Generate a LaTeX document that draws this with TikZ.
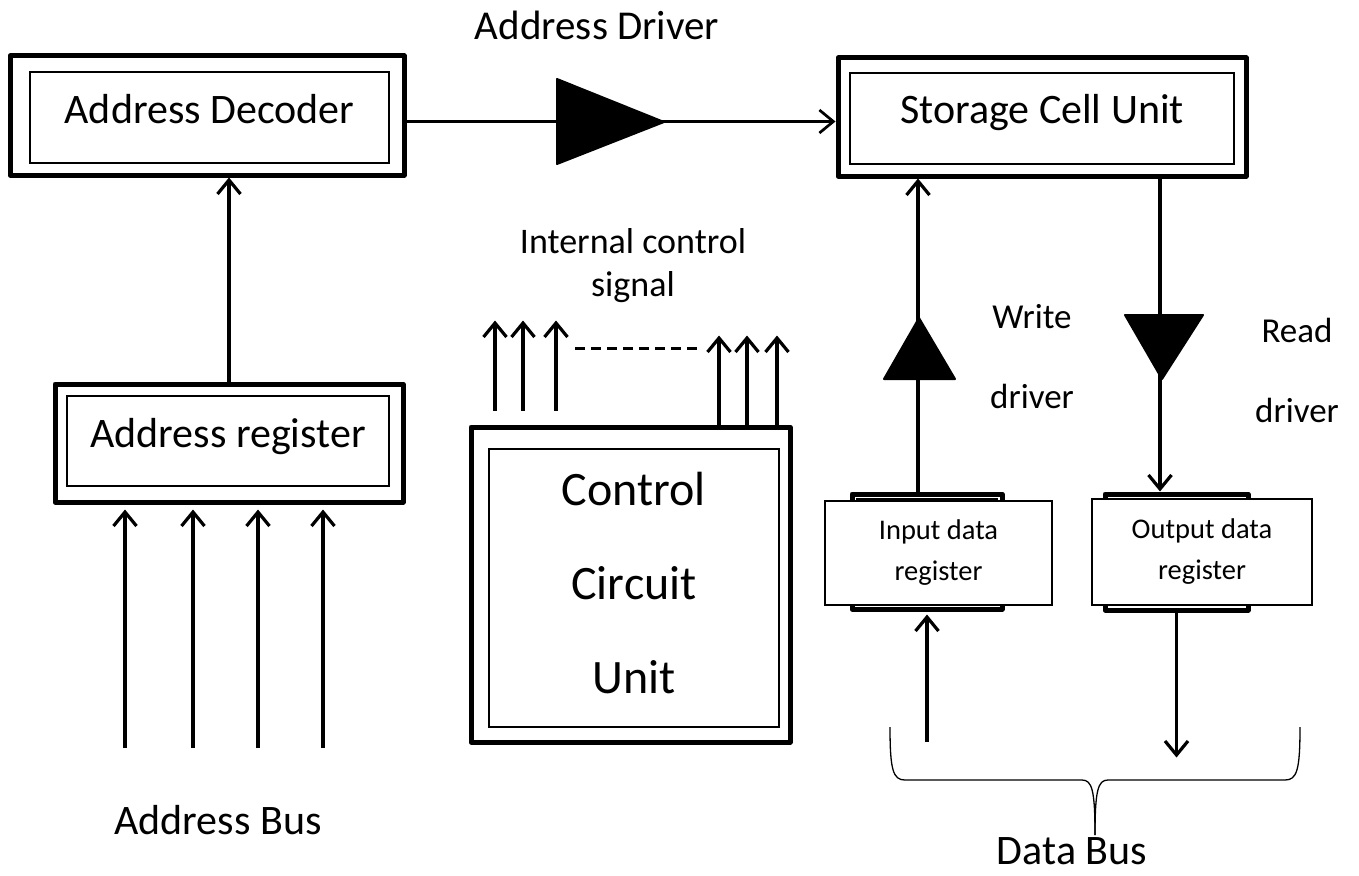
\documentclass[tikz,border=0pt]{standalone}
\usepackage{fontspec}
\setmainfont{Carlito}
\usepackage{tikz}
\usetikzlibrary{arrows.meta,calc,positioning,fit}

\begin{document}
\begin{tikzpicture}[x=1pt, y=-1pt, arrow/.style = {line width=3.2pt,-{Straight Barb[length=14pt,width=23pt]}}]
	\tikzset{boxout/.style={draw=black, line width=5pt, line join=round, inner sep=0pt}}
	\tikzset{boxin/.style={draw=black, line width=1.5pt, inner sep=0pt}}
	\tikzset{boxtxt/.style={anchor=base, inner sep=0pt, font=\fontsize{42}{50}\selectfont}}
	\tikzset{datareg/.style={draw=black, line width=1.5pt, fill=white, inner sep=0pt}}
	\tikzset{regtxt/.style={align=center, inner sep=0pt, font=\fontsize{28.5}{41}\selectfont}}
	\tikzset{driver/.style={fill=black, draw=black, line width=2pt, line join=round}}
	\tikzset{lbl/.style={align=center, inner sep=0pt}}

	\useasboundingbox (0,0) rectangle (1359,875);

	% Address side
	\node[fit={(10,56) (404,175)}, boxout] (decOut) {};
	\node[fit={(30,72) (389,163)}, boxin] (dec) {};
	\node[boxtxt] at ([yshift=-6pt]dec.center) {Address Decoder};
	\node[fit={(55,384) (403,502)}, boxout] (regOut) {};
	\node[fit={(67,396) (389,486)}, boxin] (reg) {};
	\node[boxtxt] at ([yshift=-6pt]reg.center) {Address register};

	\draw [arrow] (regOut.north) -- (regOut.north |- decOut.south);

	\foreach \x [count=\i] in {125,193,258,323} {
		\coordinate (ab\i) at (\x,748);
		\draw [arrow, shorten >=5pt] (ab\i) -- (ab\i |- regOut.south);
	}
	\node[lbl, font=\fontsize{42}{50}\selectfont] (abLbl) at (218,820) {Address Bus};

	% Storage cells
	\node[fit={(838,58) (1246,176)}, boxout] (cellOut) {};
	\node[fit={(850,73) (1234,164)}, boxin] (cell) {};
	\node[boxtxt] at ([yshift=-5pt]cell.center) {Storage Cell Unit};

	\draw [arrow, line width=2.7pt] ([yshift=-6pt]decOut.east) -- ([yshift=-6pt]decOut.east -| cellOut.west);
	\filldraw [driver] (557,79) -- (664,122) -- (557,164) -- cycle;
	\node[lbl, font=\fontsize{41}{48}\selectfont] (drvLbl) at (597,25) {Address Driver};

	% Control circuit
	\node[fit={(471,427) (790,742)}, boxout] (ctrlOut) {};
	\node[fit={(489,449) (779,727)}, boxin] (ctrl) {};
	\node[lbl, font=\fontsize{48}{94}\selectfont] at ([yshift=5pt]ctrl.center) {Control\\Circuit\\Unit};

	\foreach \x in {495,523,556}
		\draw [arrow] ([yshift=14pt]ctrlOut.north -| \x,0) -- ++(0,-90);
	\foreach \x in {719,747,777}
		\draw [arrow] (ctrlOut.north -| \x,0) -- ++(0,-89);
	\draw [line width=3pt, dash pattern=on 10pt off 6pt] (575,348) -- (698,348);
	\node[lbl, font=\fontsize{36}{43}\selectfont] (sigLbl) at (633,266) {Internal control\\signal};

	% Data registers
	\node[fit={(852,494) (1002,609)}, boxout] (inBack) {};
	\node[fit={(857,499) (997,604)}, draw=black, line width=1.2pt, inner sep=0pt] {};
	\node[fit={(825,501) (1052,605)}, datareg] (inReg) {};
	\node[regtxt] at (inReg.center) {Input data\\register};

	\node[fit={(1105,494) (1248,610)}, boxout] (outBack) {};
	\node[fit={(1110,499) (1243,605)}, draw=black, line width=1.2pt, inner sep=0pt] {};
	\node[fit={(1092,499) (1312,605)}, datareg] (outReg) {};
	\node[regtxt] at (outReg.center) {Output data\\register};

	% Write / read drivers
	\coordinate (wr) at ([xshift=-9pt]inBack.north);
	\draw [arrow] (wr) -- (wr |- cellOut.south);
	\filldraw [driver] (919,318) -- (955,379) -- (884,379) -- cycle;
	\node[lbl, font=\fontsize{35}{80}\selectfont] (wrLbl) at (1032,357) {Write\\driver};

	\coordinate (rd) at ([xshift=118pt]cellOut.south);
	\draw [arrow] (rd) -- (rd |- outBack.north);
	\filldraw [driver] (1125,315) -- (1203,315) -- (1162,379) -- cycle;
	\node[lbl, font=\fontsize{35}{80}\selectfont] (rdLbl) at (1297,370) {Read\\driver};

	\draw [arrow, shorten >=3pt] ([yshift=-130pt]inBack.south) -- (inBack.south);
	\draw [arrow] (outBack.south) -- ++(0,145);

	% Data bus brace
	\draw [line width=1.3pt] (890,727) .. controls (890,770) and (893,780) .. (905,780) -- (1082,780) .. controls (1092,780) and (1095,790) .. (1095,835);
	\draw [line width=1.3pt] (1300,727) .. controls (1300,770) and (1297,780) .. (1285,780) -- (1108,780) .. controls (1098,780) and (1095,790) .. (1095,835);
	\node[lbl, font=\fontsize{42}{50}\selectfont] (dbLbl) at (1072,851) {Data Bus};

\end{tikzpicture}
\end{document}
